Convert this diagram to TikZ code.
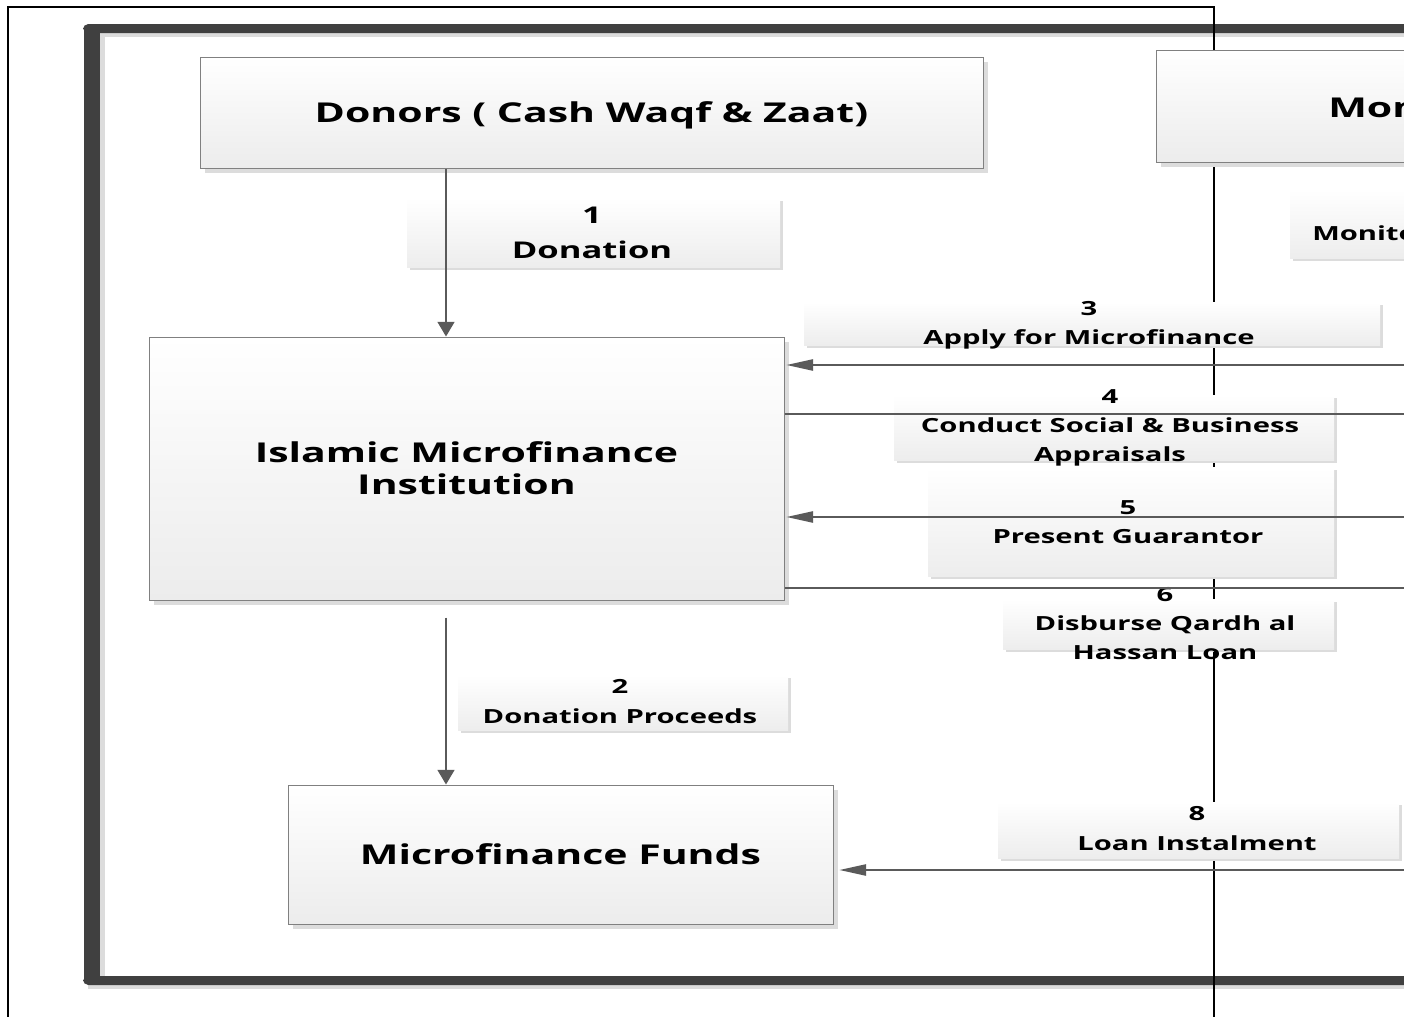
\documentclass[tikz,border=0pt]{standalone}
\usepackage{fontspec}
\setmainfont{Open Sans}[FakeStretch=1.5]
\usetikzlibrary{positioning,arrows.meta,shadows,calc}
\definecolor{frameInk}{HTML}{404040}
\definecolor{lineInk}{HTML}{5A5A5A}
\definecolor{boxEdge}{HTML}{808080}
\definecolor{boxLow}{HTML}{ECECEC}
\definecolor{tagLow}{HTML}{EDEDED}
\definecolor{shadeGray}{HTML}{DCDCDC}
\newcommand\partyfont{\fontsize{20.5}{24}\selectfont\bfseries}
\newcommand\tagfont{\fontsize{14.6}{21.75}\selectfont\bfseries}
\newcommand\bigtagfont{\fontsize{17.3}{26.25}\selectfont\bfseries}

\begin{document}
\begin{tikzpicture}[x=0.75pt, y=-0.75pt,
    party/.style={draw=boxEdge, line width=0.75pt, top color=white, bottom color=boxLow, drop shadow={shadow xshift=3.5pt, shadow yshift=-3.5pt, fill=shadeGray, opacity=1}, inner sep=0pt, font=\partyfont, align=center},
    tag/.style={top color=white, bottom color=tagLow, drop shadow={shadow xshift=2.5pt, shadow yshift=-2.5pt, fill=shadeGray, opacity=1}, inner sep=0pt},
    tagtext/.style={inner sep=0pt, align=center, font=\tagfont},
    flow/.style={draw=lineInk, line width=1.1pt},
    vflow/.style={flow, -{Triangle[length=11pt, width=12.75pt]}},
    hflow/.style={flow, -{Triangle[length=20pt, width=8.5pt]}}]
  \useasboundingbox (0,0) rectangle (1404,1017);
  \clip (0,0) rectangle (1404,1017);
  % heavy frame with its shadow
  \fill[shadeGray] (100,33) rectangle (1420,37);
  \fill[shadeGray] (100,33) rectangle (105,976);
  \fill[shadeGray] (88,985) rectangle (1420,989);
  \fill[frameInk, rounded corners=4pt] (83,24) rectangle (1420,33);
  \fill[frameInk] (84,28) rectangle (100,981);
  \fill[frameInk, rounded corners=4pt] (83,976) rectangle (1420,985);
  % thin page border
  \draw[black, line width=2pt] (8,1030) -- (8,7) -- (1214,7) -- (1214,1030);

  % parties
  \node[party, minimum width=587.25pt, minimum height=83.25pt, text depth=0pt] (donors) at (591.5,112.5) {Donors ( Cash Waqf \& Zaat)};
  \node[party, minimum width=408pt, minimum height=84pt] (monitor) at (1428,106) {};
  \node[font=\partyfont, anchor=west, inner sep=0pt] (monname) at (1328,110) {Monitoring};
  \node[party, minimum width=476.25pt, minimum height=197.25pt] (imi) at (466.5,468.5) {Islamic Microfinance\\Institution};
  \node[party, minimum width=408.75pt, minimum height=104.25pt] (funds) at (560.5,854.5) {Microfinance Funds};

  % step labels
  \node[tag, minimum width=279.75pt, minimum height=51.75pt] (tag1) at (593.5,232.5) {};
  \node[tagtext, font=\bigtagfont] (lbl1) at (592,233) {1\\Donation};
  \node[tag, minimum width=157.5pt, minimum height=51pt] (tag7) at (1395,224) {};
  \node[tagtext, anchor=west] (lbl7) at (1312,235) {Monitoring};
  \node[tag, minimum width=432pt, minimum height=32.25pt] (tag3) at (1092,323.5) {};
  \node[tagtext] (lbl3) at (1089,325) {3\\Apply for Microfinance};
  \node[tag, minimum width=330pt, minimum height=48.75pt] (tag4) at (1114,427.5) {};
  \node[tagtext] (lbl4) at (1110,428) {4\\Conduct Social \& Business\\Appraisals};
  \node[tag, minimum width=304.5pt, minimum height=81.75pt] (tag5) at (1131,521.5) {};
  \node[tagtext] (lbl5) at (1128,522) {5\\Present Guarantor};
  \node[tag, minimum width=248.25pt, minimum height=37.5pt] (tag6) at (1168.5,624) {};
  \node[tagtext] (lbl6) at (1165,624) {6\\Disburse Qardh al\\Hassan Loan};
  \node[tag, minimum width=247.5pt, minimum height=41.25pt] (tag2) at (623,702.5) {};
  \node[tagtext, font=\fontsize{14.6}{22.5}\selectfont\bfseries] (lbl2) at (620,702) {2\\Donation Proceeds};
  \node[tag, minimum width=300.75pt, minimum height=42pt] (tag8) at (1198.5,830) {};
  \node[tagtext, font=\fontsize{14.6}{22.5}\selectfont\bfseries] (lbl8) at (1197,829) {8\\Loan Instalment};

  % connectors
  \coordinate (drop) at (446,0);
  \coordinate (r3) at (1420,365);
  \coordinate (r4) at (1440,414);
  \coordinate (r5) at (1420,517);
  \coordinate (r6) at (1440,588);
  \coordinate (r8) at (1420,870);
  \draw[vflow] (donors.south -| drop) -- (imi.north -| drop);
  \draw[vflow] ($(imi.south -| drop)+(0,17)$) -- (funds.north -| drop);
  \draw[hflow, shorten >=1.5pt] (r3) -- (r3 -| imi.east);
  \draw[hflow] (r4 -| imi.east) -- (r4);
  \draw[hflow, shorten >=1.5pt] (r5) -- (r5 -| imi.east);
  \draw[hflow] (r6 -| imi.east) -- (r6);
  \draw[hflow, shorten >=4.5pt] (r8) -- (r8 -| funds.east);
\end{tikzpicture}
\end{document}
